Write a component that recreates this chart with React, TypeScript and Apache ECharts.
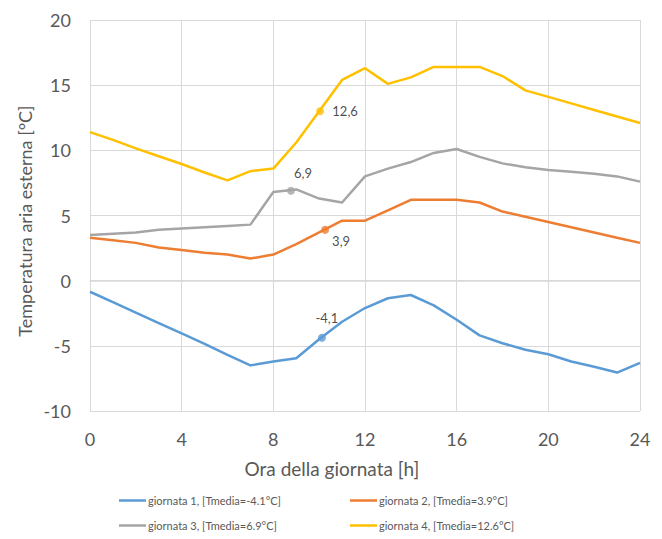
import React, { useEffect, useRef } from "react";
import * as echarts from "echarts";

const hours = [0, 1, 2, 3, 4, 5, 6, 7, 8, 9, 10, 11, 12, 13, 14, 15, 16, 17, 18, 19, 20, 21, 22, 23, 24];

const seriesNames = [
  "giornata 1, [Tmedia=-4.1°C]",
  "giornata 2, [Tmedia=3.9°C]",
  "giornata 3, [Tmedia=6.9°C]",
  "giornata 4, [Tmedia=12.6°C]",
];
const seriesColors = ["#5b9bd5", "#ed7d31", "#a5a5a5", "#ffc000"];

const day1 = [-0.85, -1.65, -2.45, -3.25, -4.05, -4.85, -5.7, -6.5, -6.2, -5.95, -4.5, -3.15, -2.1, -1.35, -1.1, -1.9, -3.0, -4.2, -4.8, -5.3, -5.65, -6.2, -6.6, -7.05, -6.3];
const day2 = [3.3, 3.1, 2.9, 2.55, 2.35, 2.15, 2.0, 1.7, 2.0, 2.8, 3.7, 4.6, 4.6, 5.4, 6.2, 6.2, 6.2, 6.0, 5.3, 4.9, 4.5, 4.1, 3.7, 3.3, 2.9];
const day3 = [3.5, 3.6, 3.7, 3.9, 4.0, 4.1, 4.2, 4.3, 6.8, 7.0, 6.3, 6.0, 8.0, 8.6, 9.1, 9.8, 10.1, 9.5, 9.0, 8.7, 8.5, 8.35, 8.2, 8.0, 7.6];
const day4 = [11.4, 10.8, 10.15, 9.55, 8.95, 8.3, 7.7, 8.4, 8.6, 10.6, 13.0, 15.4, 16.3, 15.1, 15.6, 16.4, 16.4, 16.4, 15.7, 14.6, 14.1, 13.6, 13.1, 12.6, 12.1];
const days = [day1, day2, day3, day4];

// highlighted mean points (hour, temperature) and their labels
const markerHours = [10.12, 10.26, 8.77, 10.04];
const markerTemps = [-4.38, 3.9, 6.9, 13.0];
const markerLabels = ["-4,1", "3,9", "6,9", "12,6"];
const markerLabelOffsets = [[5, -20], [16, 11], [12, -18], [25, 0]];

const xTicks = { min: 0, max: 24, interval: 4 };
const yTicks = { min: -10, max: 20, interval: 5 };
const xTitle = "Ora della giornata [h]";
const yTitle = "Temperatura aria esterna [°C]";

const FONT = "Lato, 'Open Sans', sans-serif";
const GRID = "#d9d9d9";
const TEXT = "#595959";

export default function App() {
  const ref = useRef<HTMLDivElement>(null);
  useEffect(() => {
    if (!ref.current) return;
    const chart = echarts.init(ref.current, undefined, { renderer: "svg" });
    const lineSeries = days.map((d, i) => ({
      name: seriesNames[i],
      type: "line",
      data: hours.map((h, k) => [h, d[k]]),
      showSymbol: false,
      symbol: "none",
      lineStyle: { color: seriesColors[i], width: 2.5 },
      itemStyle: { color: seriesColors[i] },
      z: 2,
    }));
    const markerSeries = markerHours.map((h, i) => ({
      name: "m" + i,
      type: "scatter",
      data: [[h, markerTemps[i]]],
      symbol: "circle",
      symbolSize: 8,
      itemStyle: { color: seriesColors[i] },
      z: 3,
      label: {
        show: true,
        position: "inside",
        offset: markerLabelOffsets[i],
        formatter: () => markerLabels[i],
        color: "#1a1a1a",
        fontSize: 13,
        fontFamily: FONT,
      },
    }));
    const legendPos = [
      { left: 119, top: 495 },
      { left: 350, top: 495 },
      { left: 119, top: 520 },
      { left: 350, top: 520 },
    ];
    chart.setOption({
      animation: false,
      backgroundColor: "#ffffff",
      grid: { left: 90, right: 22, top: 20, bottom: 128 },
      legend: seriesNames.map((n, i) => ({
        data: [n],
        left: legendPos[i].left,
        top: legendPos[i].top,
        icon: "rect",
        itemWidth: 27,
        itemHeight: 2.5,
        itemGap: 0,
        textStyle: { color: TEXT, fontSize: 11, fontFamily: FONT, padding: [0, 0, 0, -3] },
        padding: 0,
      })),
      graphic: [
        {
          type: "text",
          x: 332,
          y: 468,
          style: {
            text: xTitle,
            fill: TEXT,
            font: `19px ${FONT}`,
            align: "center",
            verticalAlign: "middle",
          },
        },
        {
          type: "text",
          x: 25,
          y: 221,
          rotation: Math.PI / 2,
          style: {
            text: yTitle,
            fill: TEXT,
            font: `18px ${FONT}`,
            align: "center",
            verticalAlign: "middle",
          },
        },
      ],
      xAxis: {
        type: "value",
        min: xTicks.min,
        max: xTicks.max,
        interval: xTicks.interval,
        axisLine: { show: true, lineStyle: { color: GRID, width: 1.5 } },
        axisTick: { show: false },
        axisLabel: { color: TEXT, fontSize: 18, fontFamily: FONT, margin: 19 },
        splitLine: { show: true, lineStyle: { color: GRID, width: 1 } },
      },
      yAxis: {
        type: "value",
        min: yTicks.min,
        max: yTicks.max,
        interval: yTicks.interval,
        axisLine: { show: false },
        axisTick: { show: false },
        axisLabel: { color: TEXT, fontSize: 18, fontFamily: FONT, margin: 19 },
        splitLine: { show: true, lineStyle: { color: GRID, width: 1 } },
      },
      series: [...lineSeries, ...markerSeries],
    });
    return () => chart.dispose();
  }, []);
  return <div ref={ref} style={{ width: 662, height: 539, position: "absolute", left: 0, top: 0 }} />;
}
